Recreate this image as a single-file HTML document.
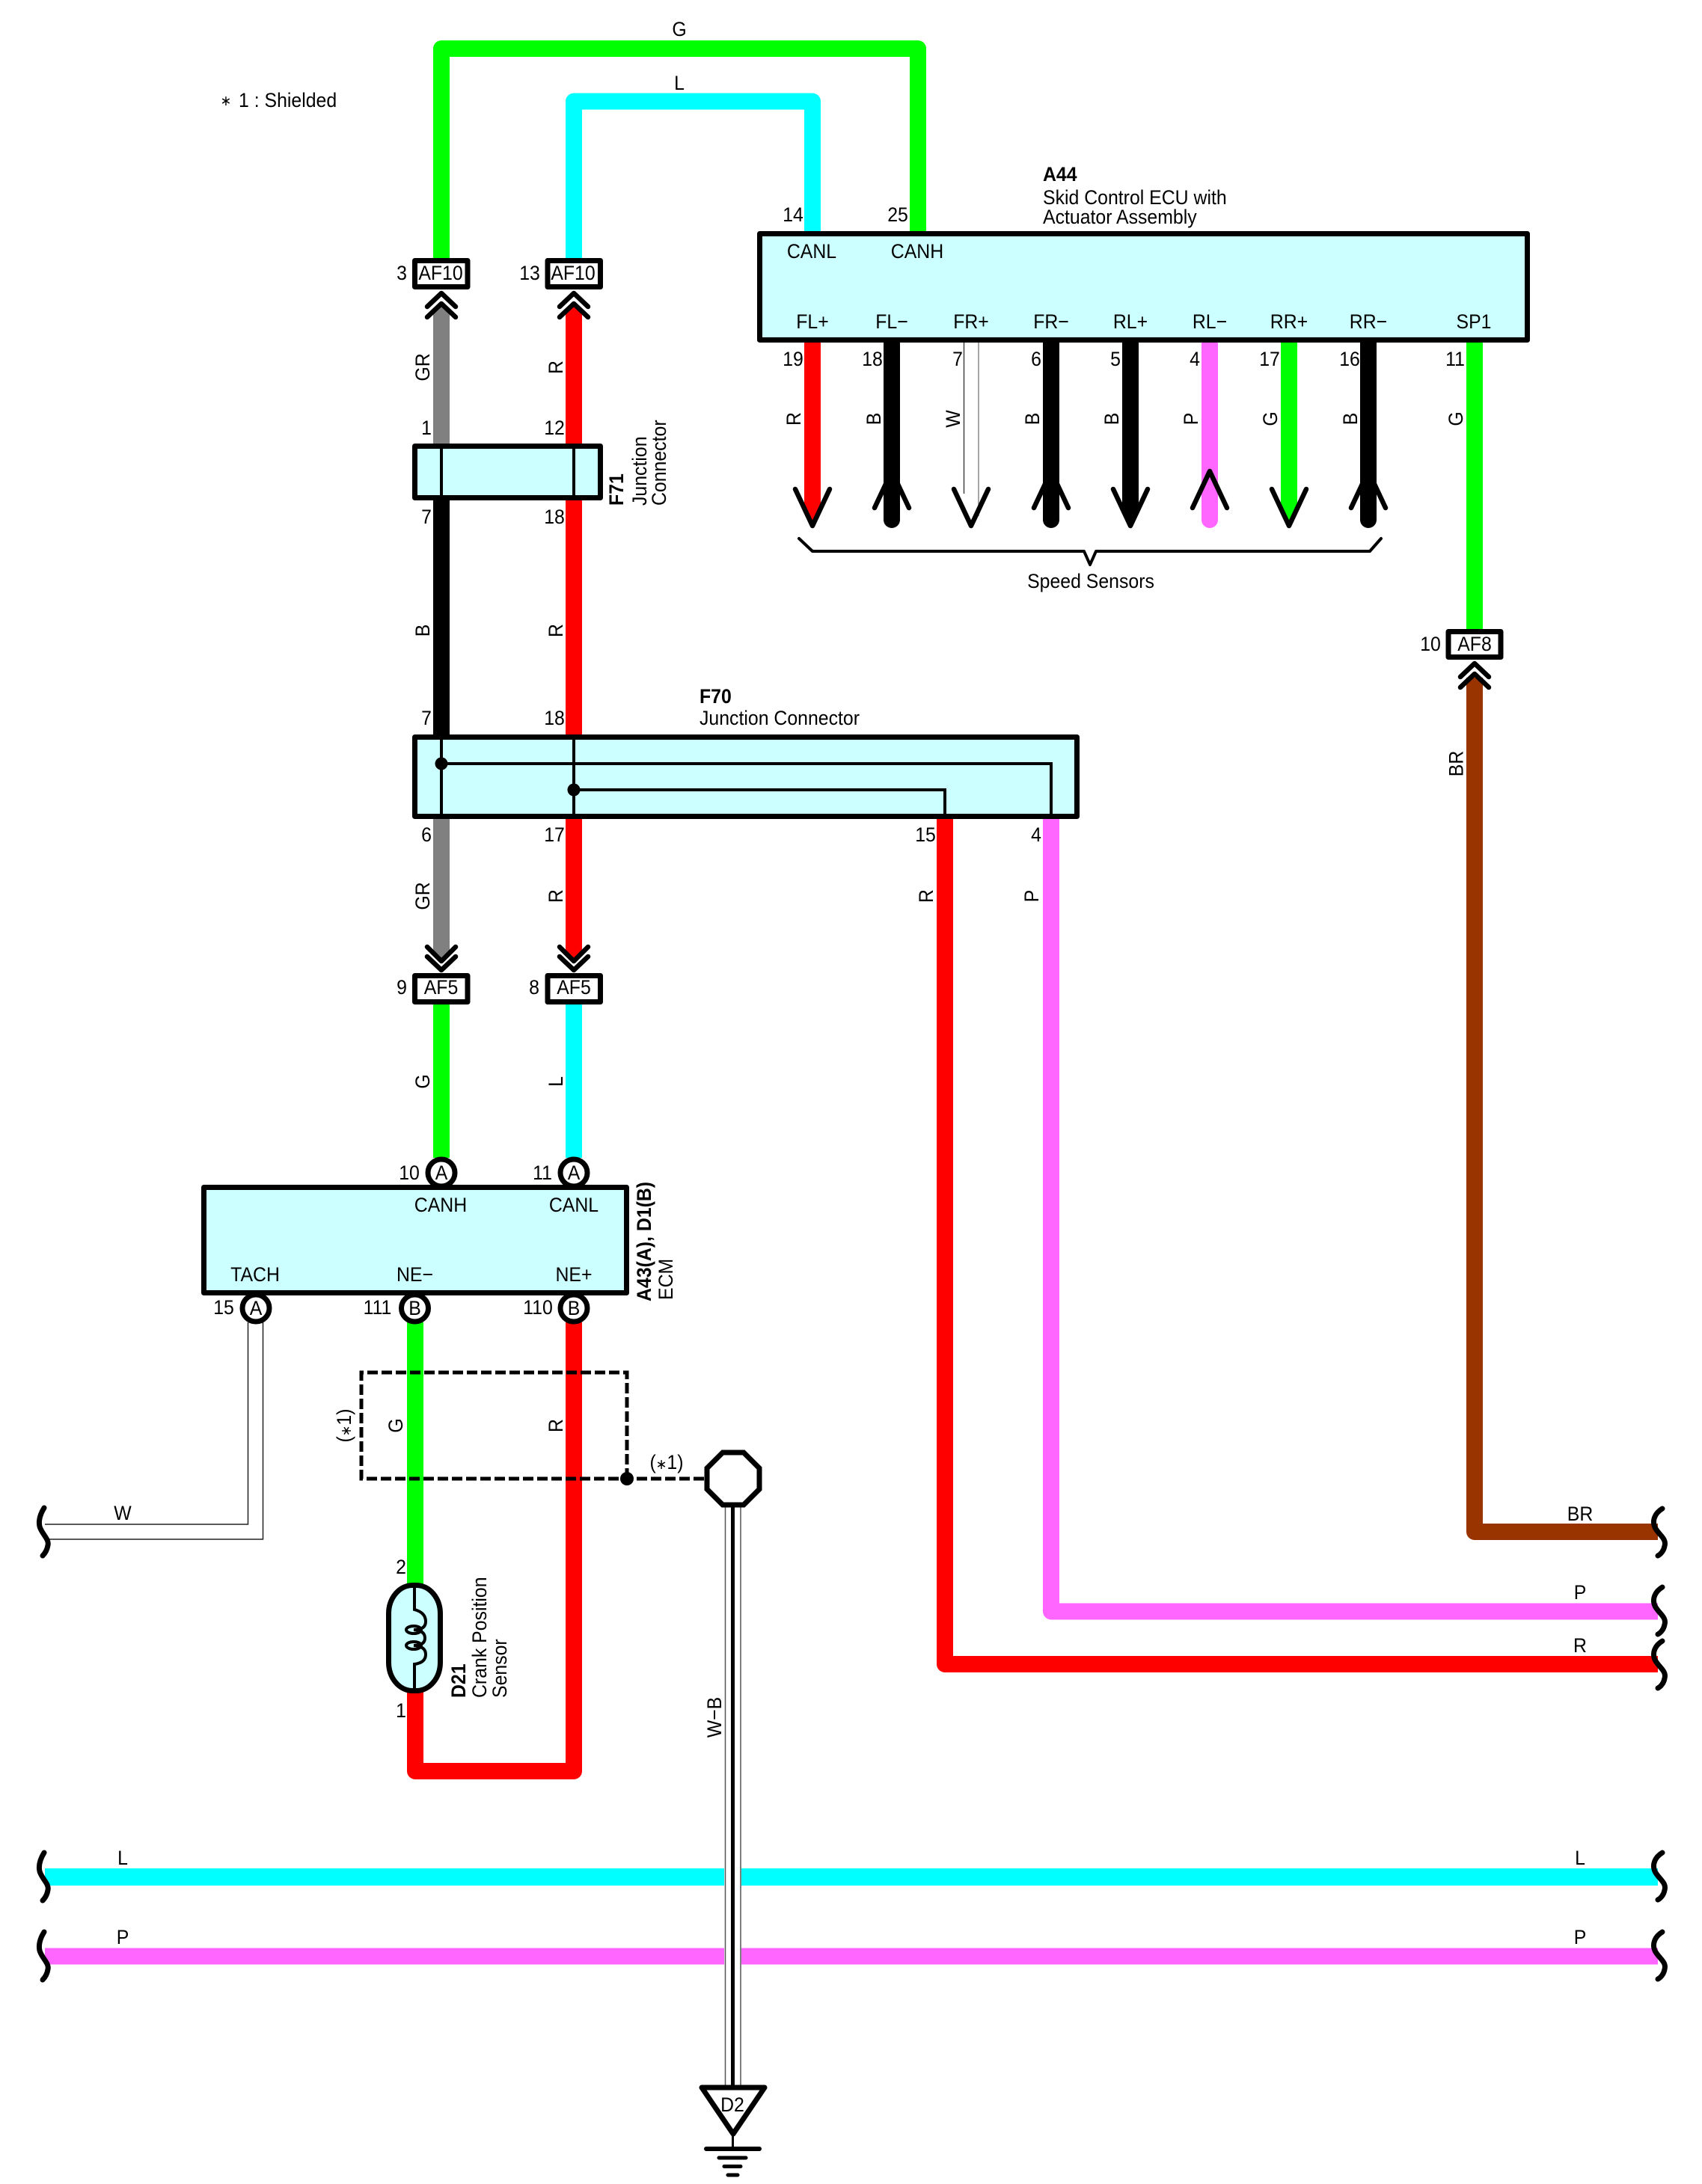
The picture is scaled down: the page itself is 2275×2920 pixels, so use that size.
<!DOCTYPE html>
<html>
<head>
<meta charset="utf-8">
<title>Wiring Diagram</title>
<style>
html,body{margin:0;padding:0;background:#fff}
svg{display:block}
text{font-family:"Liberation Sans",sans-serif;font-size:27px;fill:#000}
.m{text-anchor:middle}
.b{font-weight:bold}
.w{fill:none;stroke-linejoin:round;stroke-width:22}
.k{fill:none;stroke:#000;stroke-width:6.500;stroke-linejoin:round;stroke-linecap:round}
.s{fill:none;stroke:#000;stroke-width:7;stroke-linecap:round}
.box{fill:#ccffff;stroke:#000;stroke-width:7;stroke-linejoin:round}
.con{fill:#fff;stroke:#000;stroke-width:7;stroke-linejoin:round}
.cir{fill:#fff;stroke:#000;stroke-width:7}
.thin{stroke:#000;stroke-width:4;fill:none}
.dash{fill:none;stroke:#000;stroke-width:5;stroke-dasharray:14 5}
.a{font-size:19px}
</style>
</head>
<body>
<svg width="2275" height="2920" viewBox="0 0 2275 2920" xmlns="http://www.w3.org/2000/svg">
<rect width="2275" height="2920" fill="#fff"/>

<!-- long wires -->
<path class="w" stroke="#00ff00" d="M590 346V65H1227V310"/>
<path class="w" stroke="#00ffff" d="M767 346V135.500H1086V310"/>
<polygon fill="#808080" points="579,416 590,406 601,416 601,594 579,594"/>
<polygon fill="#ff0000" points="756,416 767,406 778,416 778,594 756,594"/>
<rect x="579" y="668" width="22" height="316" fill="#000"/>
<rect x="756" y="668" width="22" height="316" fill="#ff0000"/>
<polygon fill="#808080" points="579,1094 601,1094 601,1274 590,1285 579,1274"/>
<polygon fill="#ff0000" points="756,1094 778,1094 778,1274 767,1285 756,1274"/>
<rect x="579" y="1342" width="22" height="206" fill="#00ff00"/>
<rect x="756" y="1342" width="22" height="206" fill="#00ffff"/>
<path class="w" stroke="#ff0000" d="M1263 1094V2225H2216"/>
<path class="w" stroke="#ff66ff" d="M1405 1094V2154.500H2216"/>
<rect x="1960" y="457" width="22" height="385" fill="#00ff00"/>
<path class="w" stroke="#993300" d="M1971 906V2048H2216"/>
<polygon fill="#993300" points="1960,916 1971,906 1982,916 1982,930 1960,930"/>
<rect x="60" y="2498" width="2156" height="23" fill="#00ffff"/>
<rect x="60" y="2604.500" width="2156" height="22" fill="#ff66ff"/>

<!-- A44 lower wires -->
<polygon fill="#ff0000" points="1075,457 1097,457 1097,680 1086,702 1075,680"/>
<path class="w" stroke="#000" stroke-linecap="round" d="M1192 457V695"/>
<rect x="1288" y="457" width="20" height="230" fill="#fff"/>
<path d="M1288.500 457V660" stroke="#444" stroke-width="1.500" fill="none"/>
<path d="M1308 457V690" stroke="#888" stroke-width="1.500" fill="none"/>
<path class="w" stroke="#000" stroke-linecap="round" d="M1405 457V695"/>
<polygon fill="#000" points="1500,457 1522,457 1522,680 1511,702 1500,680"/>
<path class="w" stroke="#ff66ff" stroke-linecap="round" d="M1617 457V695"/>
<polygon fill="#00ff00" points="1712,457 1734,457 1734,680 1723,702 1712,680"/>
<path class="w" stroke="#000" stroke-linecap="round" d="M1829 457V695"/>

<!-- A44 arrows -->
<path class="k" d="M1063 654L1086 703L1109 654"/>
<path class="k" d="M1169 679L1192 630L1215 679"/>
<path class="k" d="M1275 654L1298 703L1321 654"/>
<path class="k" d="M1382 679L1405 630L1428 679"/>
<path class="k" d="M1488 654L1511 703L1534 654"/>
<path class="k" d="M1594 679L1617 630L1640 679"/>
<path class="k" d="M1700 654L1723 703L1746 654"/>
<path class="k" d="M1806 679L1829 630L1852 679"/>

<!-- bracket -->
<path d="M1068 720L1086 737H1449L1457 755L1465 737H1831L1846 720" fill="none" stroke="#000" stroke-width="4" stroke-linecap="round" stroke-linejoin="round"/>

<!-- boxes -->
<rect class="box" x="1015.500" y="312.500" width="1026" height="142"/>
<rect class="box" x="554.500" y="596.500" width="248" height="69"/>
<path class="thin" d="M590 596V666M767 596V666"/>
<rect class="box" x="554.500" y="985.500" width="885" height="106"/>
<path class="thin" d="M590 985V1092M767 985V1092M590 1021H1405V1092M767 1056H1263V1092"/>
<circle cx="590" cy="1021" r="8.500" fill="#000"/>
<circle cx="767" cy="1056" r="8.500" fill="#000"/>

<!-- inline connectors -->
<rect class="con" x="554.500" y="348.500" width="70.500" height="35"/>
<rect class="con" x="732" y="348.500" width="70.500" height="35"/>
<rect class="con" x="554.500" y="1304.500" width="70.500" height="35"/>
<rect class="con" x="732" y="1304.500" width="70.500" height="35"/>
<rect class="con" x="1936" y="844.500" width="70" height="34"/>
<path class="k" d="M571 410L590 392L609 410M571 424L590 406L609 424"/>
<path class="k" d="M748 410L767 392L786 410M748 424L767 406L786 424"/>
<path class="k" d="M1952 905L1971 887L1990 905M1952 919L1971 901L1990 919"/>
<path class="k" d="M571 1266L590 1285L609 1266M571 1279L590 1297L609 1279"/>
<path class="k" d="M748 1266L767 1285L786 1266M748 1279L767 1297L786 1279"/>

<!-- ECM -->
<circle class="cir" cx="590" cy="1568" r="18"/>
<circle class="cir" cx="767" cy="1568" r="18"/>
<path d="M331.500 1768V2038H60M351.500 1768V2058H64" fill="none" stroke="#222" stroke-width="1.500"/>
<rect x="544" y="1768" width="22" height="352" fill="#00ff00"/>
<path class="w" stroke="#ff0000" d="M555 2260V2368H767V1768"/>
<rect class="box" x="272.500" y="1587.500" width="565" height="141"/>
<circle class="cir" cx="342" cy="1749" r="18"/>
<circle class="cir" cx="554.500" cy="1749" r="18"/>
<circle class="cir" cx="767" cy="1749" r="18"/>

<!-- shield -->
<path class="dash" d="M838 1977V1835H483V1977H942"/>
<circle cx="838" cy="1977" r="9" fill="#000"/>

<!-- W-B -->
<rect x="968" y="2010" width="23" height="790" fill="#fff"/>
<path d="M969.500 2010V2790M990 2010V2790" stroke="#555" stroke-width="1.500" fill="none"/>
<path d="M979.500 2010V2790" stroke="#000" stroke-width="5" fill="none"/>
<polygon points="966,1942 994,1942 1015,1963 1015,1991 994,2012 966,2012 945,1991 945,1963" fill="#fff" stroke="#000" stroke-width="7"/>

<!-- ground -->
<polygon points="938,2791 1022,2791 980,2853" fill="#fff" stroke="#000" stroke-width="7" stroke-linejoin="round"/>
<path d="M979.500 2853V2873" stroke="#000" stroke-width="3" fill="none"/>
<path d="M944 2873H1015" stroke="#000" stroke-width="6" stroke-linecap="round" fill="none"/>
<path d="M961 2885H997M968 2896.500H990M973 2908H986" stroke="#000" stroke-width="5" stroke-linecap="round" fill="none"/>

<!-- sensor -->
<rect x="519.500" y="2119.500" width="69" height="141" rx="32" ry="38" class="box"/>
<path d="M554 2118V2152Q569 2156 569 2168Q569 2179 553 2179Q568 2180 568 2190Q568 2200 553 2200Q569 2201 569 2212Q569 2223 554 2225V2262" fill="none" stroke="#000" stroke-width="4"/>
<ellipse cx="553" cy="2179" rx="10" ry="5" fill="none" stroke="#000" stroke-width="4"/>
<ellipse cx="553" cy="2200" rx="10" ry="5" fill="none" stroke="#000" stroke-width="4"/>

<!-- squiggles -->
<path class="s" d="M2222 2017C2212 2023 2208 2033 2212 2042C2217 2052 2228 2057 2225 2067C2224 2073 2220 2078 2216 2080"/>
<path class="s" d="M2222 2122C2212 2128 2208 2138 2212 2147C2217 2157 2228 2162 2225 2172C2224 2178 2220 2183 2216 2185"/>
<path class="s" d="M2222 2194C2212 2200 2208 2210 2212 2219C2217 2229 2228 2234 2225 2244C2224 2250 2220 2255 2216 2257"/>
<path class="s" d="M2222 2477C2212 2483 2208 2493 2212 2502C2217 2512 2228 2517 2225 2527C2224 2533 2220 2538 2216 2540"/>
<path class="s" d="M2222 2583C2212 2589 2208 2599 2212 2608C2217 2618 2228 2623 2225 2633C2224 2639 2220 2644 2216 2646"/>
<path class="s" d="M59 2016C54 2024 51 2032 53 2041C56 2051 66 2058 64 2066C63 2072 60 2077 57 2080"/>
<path class="s" d="M59 2477C54 2485 51 2493 53 2502C56 2512 66 2519 64 2527C63 2533 60 2538 57 2541"/>
<path class="s" d="M59 2583C54 2591 51 2599 53 2608C56 2618 66 2625 64 2633C63 2639 60 2644 57 2647"/>

<!-- note -->
<text class="m a" transform="translate(302 141) scale(.92 1)">∗</text>
<text transform="translate(319 143) scale(.92 1)">1 : Shielded</text>

<!-- top labels -->
<text class="m" transform="translate(908 48) scale(.92 1)">G</text>
<text class="m" transform="translate(908 120) scale(.92 1)">L</text>
<text class="m" transform="translate(1060 296) scale(.92 1)">14</text>
<text class="m" transform="translate(1200 296) scale(.92 1)">25</text>
<text class="b" transform="translate(1394 242) scale(.92 1)">A44</text>
<text transform="translate(1394 273) scale(.92 1)">Skid Control ECU with</text>
<text transform="translate(1394 299) scale(.92 1)">Actuator Assembly</text>
<text class="m" transform="translate(1085 345) scale(.92 1)">CANL</text>
<text class="m" transform="translate(1226 345) scale(.92 1)">CANH</text>
<text class="m" transform="translate(1086 439) scale(.92 1)">FL+</text>
<text class="m" transform="translate(1192 439) scale(.92 1)">FL−</text>
<text class="m" transform="translate(1298 439) scale(.92 1)">FR+</text>
<text class="m" transform="translate(1405 439) scale(.92 1)">FR−</text>
<text class="m" transform="translate(1511 439) scale(.92 1)">RL+</text>
<text class="m" transform="translate(1617 439) scale(.92 1)">RL−</text>
<text class="m" transform="translate(1723 439) scale(.92 1)">RR+</text>
<text class="m" transform="translate(1829 439) scale(.92 1)">RR−</text>
<text class="m" transform="translate(1970 439) scale(.92 1)">SP1</text>
<text class="m" transform="translate(1060 489) scale(.92 1)">19</text>
<text class="m" transform="translate(1166 489) scale(.92 1)">18</text>
<text class="m" transform="translate(1280 489) scale(.92 1)">7</text>
<text class="m" transform="translate(1385 489) scale(.92 1)">6</text>
<text class="m" transform="translate(1491 489) scale(.92 1)">5</text>
<text class="m" transform="translate(1597 489) scale(.92 1)">4</text>
<text class="m" transform="translate(1697 489) scale(.92 1)">17</text>
<text class="m" transform="translate(1804 489) scale(.92 1)">16</text>
<text class="m" transform="translate(1945 489) scale(.92 1)">11</text>
<text class="m" transform="translate(1070 560) rotate(-90) scale(.92 1)">R</text>
<text class="m" transform="translate(1177 560) rotate(-90) scale(.92 1)">B</text>
<text class="m" transform="translate(1283 560) rotate(-90) scale(.92 1)">W</text>
<text class="m" transform="translate(1389 560) rotate(-90) scale(.92 1)">B</text>
<text class="m" transform="translate(1495 560) rotate(-90) scale(.92 1)">B</text>
<text class="m" transform="translate(1601 560) rotate(-90) scale(.92 1)">P</text>
<text class="m" transform="translate(1707 560) rotate(-90) scale(.92 1)">G</text>
<text class="m" transform="translate(1814 560) rotate(-90) scale(.92 1)">B</text>
<text class="m" transform="translate(1955 560) rotate(-90) scale(.92 1)">G</text>
<text class="m" transform="translate(1458 786) scale(.92 1)">Speed Sensors</text>

<!-- AF10 / F71 -->
<text class="m" transform="translate(537 374) scale(.92 1)">3</text>
<text class="m" transform="translate(589 374) scale(.92 1)">AF10</text>
<text class="m" transform="translate(708 374) scale(.92 1)">13</text>
<text class="m" transform="translate(766 374) scale(.92 1)">AF10</text>
<text class="m" transform="translate(574 491) rotate(-90) scale(.92 1)">GR</text>
<text class="m" transform="translate(752 491) rotate(-90) scale(.92 1)">R</text>
<text class="m" transform="translate(570 581) scale(.92 1)">1</text>
<text class="m" transform="translate(741 581) scale(.92 1)">12</text>
<text class="m" transform="translate(570 700) scale(.92 1)">7</text>
<text class="m" transform="translate(741 700) scale(.92 1)">18</text>
<text class="b" transform="translate(833 676) rotate(-90) scale(.92 1)">F71</text>
<text transform="translate(864 676) rotate(-90) scale(.92 1)">Junction</text>
<text transform="translate(890 676) rotate(-90) scale(.92 1)">Connector</text>
<text class="m" transform="translate(574 843) rotate(-90) scale(.92 1)">B</text>
<text class="m" transform="translate(752 843) rotate(-90) scale(.92 1)">R</text>

<!-- F70 -->
<text class="m" transform="translate(570 969) scale(.92 1)">7</text>
<text class="m" transform="translate(741 969) scale(.92 1)">18</text>
<text class="b" transform="translate(935 940) scale(.92 1)">F70</text>
<text transform="translate(935 969) scale(.92 1)">Junction Connector</text>
<text class="m" transform="translate(570 1125) scale(.92 1)">6</text>
<text class="m" transform="translate(741 1125) scale(.92 1)">17</text>
<text class="m" transform="translate(1237 1125) scale(.92 1)">15</text>
<text class="m" transform="translate(1385 1125) scale(.92 1)">4</text>
<text class="m" transform="translate(574 1198) rotate(-90) scale(.92 1)">GR</text>
<text class="m" transform="translate(752 1198) rotate(-90) scale(.92 1)">R</text>
<text class="m" transform="translate(1247 1198) rotate(-90) scale(.92 1)">R</text>
<text class="m" transform="translate(1388 1198) rotate(-90) scale(.92 1)">P</text>
<text class="m" transform="translate(537 1329) scale(.92 1)">9</text>
<text class="m" transform="translate(589.500 1329) scale(.92 1)">AF5</text>
<text class="m" transform="translate(714 1329) scale(.92 1)">8</text>
<text class="m" transform="translate(767 1329) scale(.92 1)">AF5</text>
<text class="m" transform="translate(574 1446) rotate(-90) scale(.92 1)">G</text>
<text class="m" transform="translate(752 1446) rotate(-90) scale(.92 1)">L</text>

<!-- AF8 -->
<text class="m" transform="translate(1912 870) scale(.92 1)">10</text>
<text class="m" transform="translate(1971 870) scale(.92 1)">AF8</text>
<text class="m" transform="translate(1955.500 1021) rotate(-90) scale(.92 1)">BR</text>

<!-- ECM labels -->
<text class="m" transform="translate(547 1577) scale(.92 1)">10</text>
<text class="m" transform="translate(590 1577) scale(.92 1)">A</text>
<text class="m" transform="translate(725 1577) scale(.92 1)">11</text>
<text class="m" transform="translate(767 1577) scale(.92 1)">A</text>
<text class="m" transform="translate(589 1620) scale(.92 1)">CANH</text>
<text class="m" transform="translate(767 1620) scale(.92 1)">CANL</text>
<text class="m" transform="translate(341 1713) scale(.92 1)">TACH</text>
<text class="m" transform="translate(554.500 1713) scale(.92 1)">NE−</text>
<text class="m" transform="translate(767 1713) scale(.92 1)">NE+</text>
<text class="m" transform="translate(299 1757) scale(.92 1)">15</text>
<text class="m" transform="translate(342 1758) scale(.92 1)">A</text>
<text class="m" transform="translate(504.500 1757) scale(.92 1)">111</text>
<text class="m" transform="translate(554.500 1758) scale(.92 1)">B</text>
<text class="m" transform="translate(719 1757) scale(.92 1)">110</text>
<text class="m" transform="translate(767 1758) scale(.92 1)">B</text>
<text class="b" transform="translate(870 1740) rotate(-90) scale(.92 1)">A43(A), D1(B)</text>
<text transform="translate(899 1738) rotate(-90) scale(.92 1)">ECM</text>

<!-- shield labels -->
<text class="m" transform="translate(469 1906) rotate(-90) scale(.92 1)">(<tspan class="a">∗</tspan>1)</text>
<text class="m" transform="translate(538 1906) rotate(-90) scale(.92 1)">G</text>
<text class="m" transform="translate(752 1906) rotate(-90) scale(.92 1)">R</text>
<text class="m" transform="translate(891 1964) scale(.92 1)">(<tspan class="a">∗</tspan>1)</text>

<!-- sensor labels -->
<text class="m" transform="translate(536 2104) scale(.92 1)">2</text>
<text class="m" transform="translate(536 2296) scale(.92 1)">1</text>
<text class="b" transform="translate(622 2270) rotate(-90) scale(.92 1)">D21</text>
<text transform="translate(650 2270) rotate(-90) scale(.92 1)">Crank Position</text>
<text transform="translate(677 2270) rotate(-90) scale(.92 1)">Sensor</text>
<text class="m" transform="translate(964 2296) rotate(-90) scale(.92 1)">W−B</text>

<!-- horizontal wire labels -->
<text class="m" transform="translate(164 2032) scale(.92 1)">W</text>
<text class="m" transform="translate(164 2493) scale(.92 1)">L</text>
<text class="m" transform="translate(164 2599) scale(.92 1)">P</text>
<text class="m" transform="translate(2112 2033) scale(.92 1)">BR</text>
<text class="m" transform="translate(2112 2138) scale(.92 1)">P</text>
<text class="m" transform="translate(2112 2209) scale(.92 1)">R</text>
<text class="m" transform="translate(2112 2493) scale(.92 1)">L</text>
<text class="m" transform="translate(2112 2599) scale(.92 1)">P</text>
<text class="m" transform="translate(979 2823) scale(.92 1)">D2</text>
</svg>
</body>
</html>
